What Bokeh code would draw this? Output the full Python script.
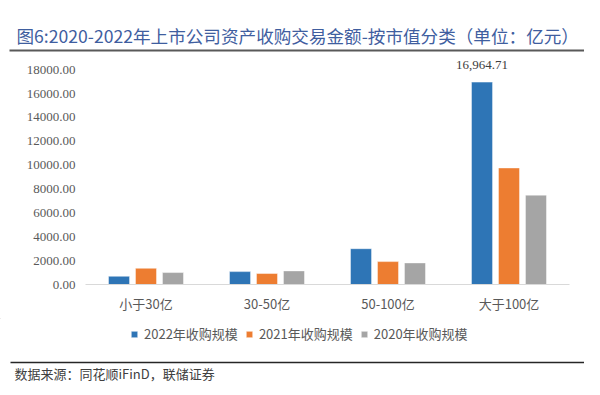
from bokeh.plotting import figure
from bokeh.layouts import column
from bokeh.models import (ColumnDataSource, FactorRange, Range1d, FixedTicker, Label,
                          Legend, LegendItem, BoxAnnotation, NumeralTickFormatter)
from bokeh.transform import dodge
from bokeh.core.properties import value
from bokeh.embed import file_html
from bokeh.resources import INLINE

# ---------------- data ----------------
categories = ["小于30亿", "30-50亿", "50-100亿", "大于100亿"]
amount_2022 = [690, 1080, 3000, 16964.71]
amount_2021 = [1360, 920, 1920, 9770]
amount_2020 = [1000, 1140, 1810, 7490]
series_names = ["2022年收购规模", "2021年收购规模", "2020年收购规模"]
series_colors = ["#2e75b6", "#ed7d31", "#a5a5a5"]
y_ticks = [0, 2000, 4000, 6000, 8000, 10000, 12000, 14000, 16000, 18000]
title_text = "图6:2020-2022年上市公司资产收购交易金额-按市值分类（单位：亿元）"
source_text = "数据来源：同花顺iFinD，联储证券"
labelled_category = "大于100亿"

# ---------------- layout (page pixels) ----------------
W = 584
HEAD_H = 52            # header band: 0..52
MAIN_TOP, MAIN_BOT = 52, 318
FOOT_TOP, FOOT_BOT = 318, 386
FL, FR, FT, FB = 85, 569, 54, 284   # main frame edges


def plain(fig):
    fig.outline_line_color = None
    fig.xgrid.grid_line_color = None
    fig.ygrid.grid_line_color = None
    fig.background_fill_color = "white"
    fig.border_fill_color = "white"
    fig.frame_align = False
    return fig


# ---------------- header ----------------
head = plain(figure(width=W, height=HEAD_H, x_range=Range1d(0, W), y_range=Range1d(HEAD_H, 0),
                    x_axis_type=None, y_axis_type=None, output_backend="svg",
                    toolbar_location=None, min_border=0))
head.add_layout(Label(x=16, y=35, text=title_text, text_font="Noto Sans CJK SC",
                      text_font_size="17.6px", text_color="#3f5e9f",
                      text_baseline="middle", text_align="left"))
head.add_layout(BoxAnnotation(left=9, right=W, top=49, bottom=51,
                              fill_color="#595959", fill_alpha=1, line_color=None))

# ---------------- main chart ----------------
src = ColumnDataSource(dict(cat=categories, y22=amount_2022, y21=amount_2021, y20=amount_2020))

p = plain(figure(x_range=FactorRange(*categories, range_padding=0),
                 y_range=Range1d(0, 19280),
                 width=W, height=MAIN_BOT - MAIN_TOP, output_backend="svg", toolbar_location=None,
                 min_border_left=FL, min_border_right=W - FR,
                 min_border_top=FT - MAIN_TOP, min_border_bottom=MAIN_BOT - FB))

offs = [-0.223, 0.0, 0.223]
cols = ["y22", "y21", "y20"]
for col, off, color in zip(cols, offs, series_colors):
    p.vbar(x=dodge("cat", off, range=p.x_range), top=col, width=0.174, source=src,
           fill_color=color, line_color="white", line_alpha=0.45, line_width=1)

idx = categories.index(labelled_category)
lab_src = ColumnDataSource(dict(cat=[labelled_category], y=[amount_2022[idx]],
                                txt=[f"{amount_2022[idx]:,.2f}"]))
p.text(x=dodge("cat", offs[0], range=p.x_range), y="y", text="txt", source=lab_src,
       text_align="center", text_baseline="middle", y_offset=-17,
       text_font=value("Liberation Serif"), text_font_size="13px", text_color="#404040")

p.yaxis.ticker = FixedTicker(ticks=y_ticks)
p.yaxis.formatter = NumeralTickFormatter(format="0.00")
p.yaxis.axis_line_color = None
p.yaxis.major_tick_line_color = None
p.yaxis.minor_tick_line_color = None
p.yaxis.major_label_standoff = 4
p.yaxis.major_label_text_font = "Liberation Serif"
p.yaxis.major_label_text_font_size = "13px"
p.yaxis.major_label_text_color = "#595959"

p.xaxis.axis_line_color = "#d9d9d9"
p.xaxis.axis_line_width = 1
p.xaxis.major_tick_line_color = None
p.xaxis.minor_tick_line_color = None
p.xaxis.major_label_standoff = 3
p.xaxis.major_label_text_font = "Noto Sans CJK SC"
p.xaxis.major_label_text_font_size = "13px"
p.xaxis.major_label_text_color = "#595959"

# ---------------- footer: legend, rule, source ----------------
foot = plain(figure(width=W, height=FOOT_BOT - FOOT_TOP, x_range=Range1d(0, W),
                    y_range=Range1d(FOOT_BOT, FOOT_TOP), x_axis_type=None, y_axis_type=None,
                    output_backend="svg", toolbar_location=None, min_border=0))
# legend proxies: one off-screen bar each so the legend has a glyph to draw
legend_renderers = [foot.vbar(x=[-50], top=[-50], width=1, fill_color=c, line_color="white",
                              line_alpha=0.45) for c in series_colors]
legend = Legend(items=[LegendItem(label=n, renderers=[r])
                       for n, r in zip(series_names, legend_renderers)],
                location=(130, FOOT_BOT - 343), orientation="horizontal",
                glyph_width=8, glyph_height=8, label_standoff=6, spacing=7,
                padding=0, margin=0, border_line_color=None, background_fill_alpha=0,
                label_text_font="Noto Sans CJK SC", label_text_font_size="13px",
                label_text_color="#595959", label_height=16)
foot.add_layout(legend, "center")
foot.add_layout(BoxAnnotation(left=10, right=W, top=361.25, bottom=362.75,
                              fill_color="#262626", fill_alpha=1, line_color=None))
foot.add_layout(Label(x=14, y=373, text=source_text, text_font="Noto Sans CJK SC",
                      text_font_size="13px", text_color="#404040",
                      text_baseline="middle", text_align="left"))

layout = column(head, p, foot, spacing=0)
open("out.html", "w").write(file_html(layout, INLINE))
